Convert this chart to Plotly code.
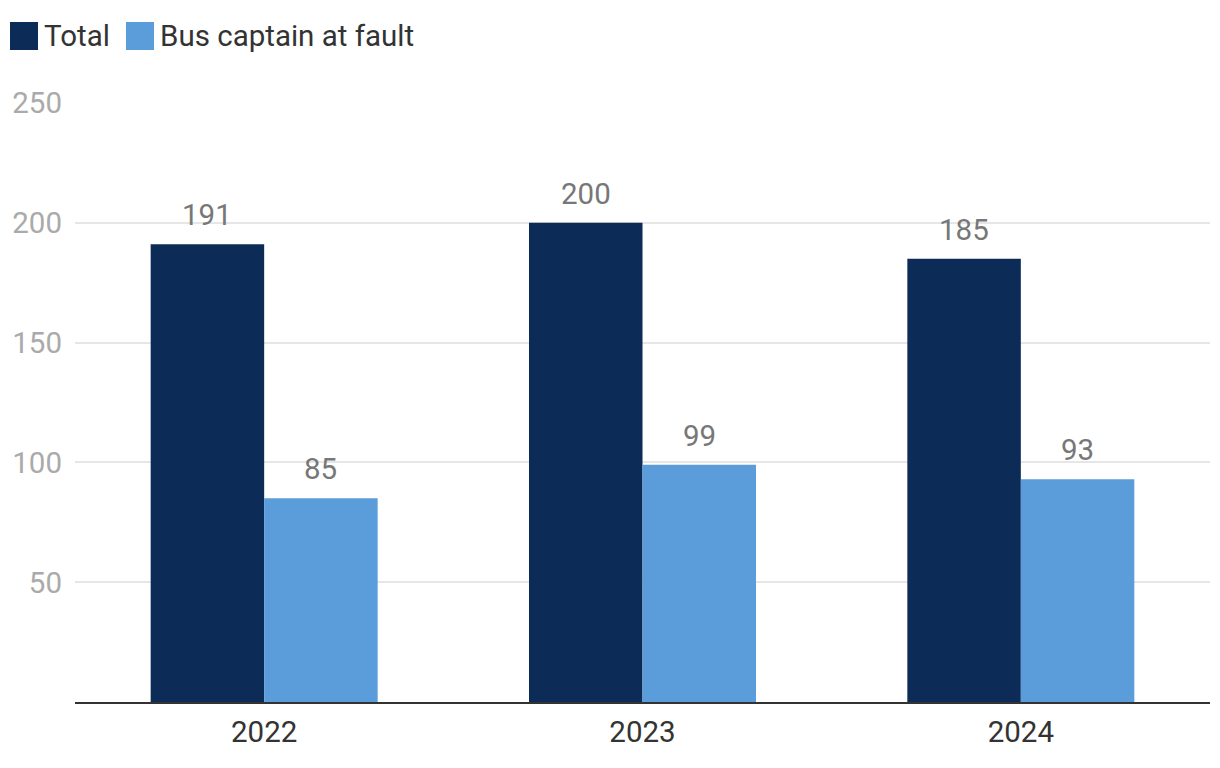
import plotly.graph_objects as go

years = ["2022", "2023", "2024"]
total = [191, 200, 185]
at_fault = [85, 99, 93]
series_names = ["Total", "Bus captain at fault"]
colors = ["#0d2b57", "#5b9ddb"]
y_ticks = [50, 100, 150, 200, 250]

FONT = "Roboto"
FS = 29.5
# page body has an 8px margin; figure sized so plot area lands where the reference has it
OFF = 8
FIG_W, FIG_H = 1220 - 2 * OFF, 768 - 2 * OFF
L, R, T, B = 75 - OFF, FIG_W - (1210 - OFF), 103 - OFF, FIG_H - (702 - OFF)
W, H = FIG_W - L - R, FIG_H - T - B
BARGAP = 0.4

fig = go.Figure()
for name, vals, col in zip(series_names, [total, at_fault], colors):
    fig.add_trace(go.Bar(
        x=years, y=vals, name=name, marker_color=col, marker_line_width=0,
        showlegend=False,
    ))

# value labels above bars (category index positions, offset to each bar's centre)
half = (1 - BARGAP) / 4
for i, vals in enumerate([total, at_fault]):
    off = (2 * i - 1) * half
    for k, v in enumerate(vals):
        fig.add_annotation(x=k + off, y=v, text=str(v), showarrow=False,
                           yshift=10, yanchor="bottom",
                           font=dict(family=FONT, size=FS, color="#777777"))

# manual legend (large squares)
def px(x):
    return (x - OFF - L) / W
def py(y):
    return (FIG_H - B - (y - OFF)) / H
legend_items = [(10, 44), (126, 160)]
for (sx, tx), name, col in zip(legend_items, series_names, colors):
    fig.add_shape(type="rect", xref="paper", yref="paper",
                  x0=px(sx), x1=px(sx + 28), y0=py(50), y1=py(22),
                  fillcolor=col, line_width=0)
    fig.add_annotation(xref="paper", yref="paper", x=px(tx - 2), y=py(36),
                       text=name, showarrow=False, xanchor="left", yanchor="middle",
                       font=dict(family=FONT, size=FS, color="#333333"))

fig.update_layout(
    width=FIG_W, height=FIG_H,
    margin=dict(l=L, r=R, t=T, b=B),
    paper_bgcolor="white", plot_bgcolor="white",
    barmode="group", bargap=BARGAP, bargroupgap=0,
    font=dict(family=FONT),
)
fig.update_xaxes(type="category", range=[-0.5, len(years) - 0.5],
                 showline=True, linecolor="#333333", linewidth=2,
                 tickfont=dict(family=FONT, size=FS, color="#333333"),
                 ticks="", showgrid=False, ticklabelstandoff=3)
fig.update_yaxes(range=[0, 250], tickvals=y_ticks, showgrid=True, gridcolor="#e6e6e6",
                 gridwidth=1.5, zeroline=False, showline=False,
                 tickfont=dict(family=FONT, size=FS, color="#aaaaaa"), ticks="",
                 ticklabelstandoff=12)
fig.write_html("out.html")
